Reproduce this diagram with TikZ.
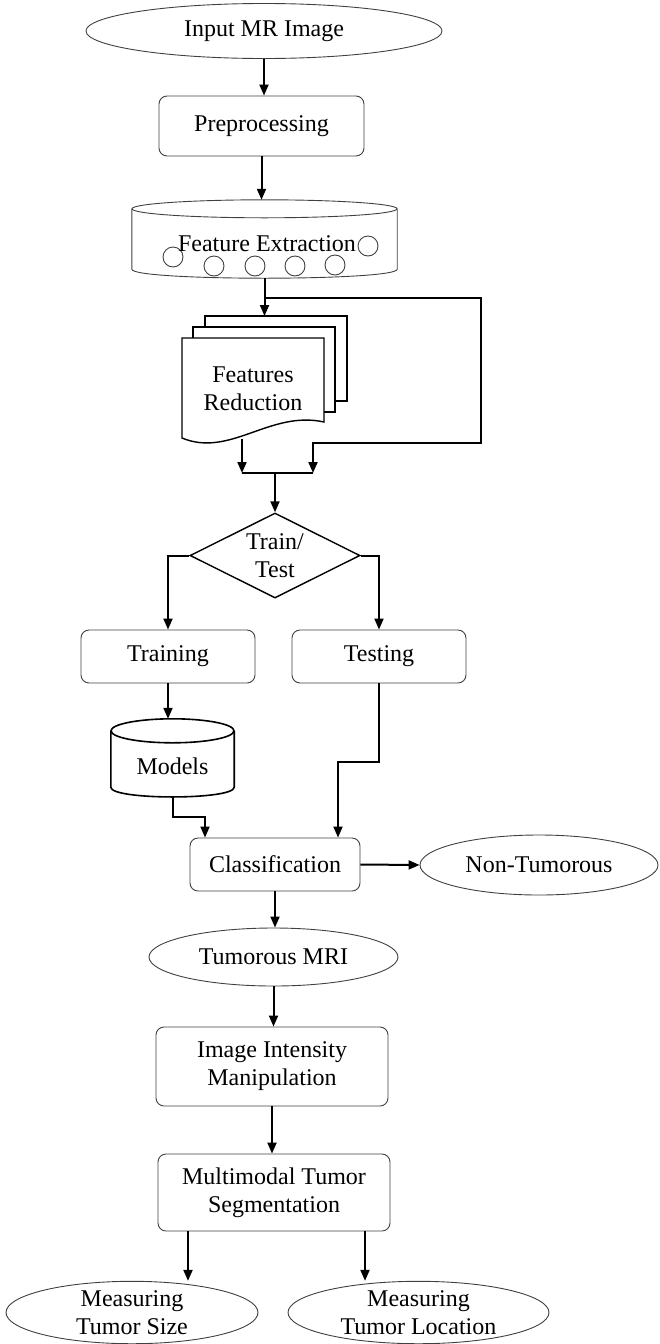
\documentclass[tikz,border=0pt]{standalone}
\usepackage{fontspec}
\setmainfont{Liberation Serif}
\usetikzlibrary{shapes.geometric, arrows.meta, positioning, calc}

\tikzset{
  every node/.style={font=\fontsize{24}{28}\selectfont, align=center, inner sep=0pt},
  procbox/.style={rectangle, rounded corners=8pt, draw=black!75, line width=0.9pt},
  termell/.style={ellipse, draw=black!75, line width=0.9pt},
  thinline/.style={draw=black!75, line width=0.9pt},
  thickline/.style={draw=black, line width=1.6pt},
  pagesheet/.style={draw=black, line width=1.4pt, fill=white},
  flowline/.style={draw=black, line width=2pt},
  flowarrow/.style={flowline, -{Triangle[length=11pt,width=9pt]}},
}

\begin{document}
\begin{tikzpicture}[x=1pt, y=-1pt]
  \useasboundingbox (0,0) rectangle (659,1344);

  % Top of the chain
  \node[termell, minimum width=356pt, minimum height=55pt] (input) at (264,31) {Input MR Image};
  \node[procbox, minimum width=205pt, minimum height=60pt] (pre) at (261.5,126) {Preprocessing};

  % Feature extraction drum with its little circles
  \node[minimum width=265pt, minimum height=78pt] (feat) at (264.5,239) {};
  \draw[thinline] ([yshift=-9pt]feat.north) ellipse [x radius=132.5pt, y radius=9pt];
  \draw[thinline] ([yshift=-9pt]feat.north west) -- ([yshift=9pt]feat.south west)
    .. controls ([yshift=-3pt]feat.south west) and ([yshift=-3pt]feat.south east) .. ([yshift=9pt]feat.south east)
    -- ([yshift=-9pt]feat.north east);
  \foreach \cx/\cy in {173/257, 214/266, 255/266, 295/266, 335/265, 368/246}
    \draw[thinline] (\cx,\cy) circle [radius=10];
  \node (featlbl) at (267,244) {Feature Extraction};

  % Stacked pages for features reduction
  \draw[pagesheet] (205,316) rectangle (347,401);
  \draw[pagesheet] (193,327) rectangle (335,412);
  \draw[pagesheet] (182,438) -- (182,338) -- (324,338) -- (324,422)
    .. controls (270,410) and (230,458) .. (182,438) -- cycle;
  \node[minimum width=142pt, minimum height=100pt] (red) at (253,389) {Features\\Reduction};

  \coordinate (fork) at (264.5,298);
  \coordinate (pagetop) at (264.5,316);
  \coordinate (loopne) at (481,298);
  \coordinate (loopse) at (481,443);
  \coordinate (joinL) at (242,473);
  \coordinate (joinR) at (313,473);

  % Decision and the two branches
  \node[diamond, aspect=2, draw=black, line width=1.4pt, minimum width=170pt, minimum height=85pt] (tt) at (275,555.5) {Train/\\Test};
  \node[procbox, minimum width=174pt, minimum height=53pt] (train) at (168,656.5) {Training};
  \node[procbox, minimum width=174pt, minimum height=53pt] (test) at (379,656.5) {Testing};

  % Models drum
  \node[minimum width=123pt, minimum height=78pt] (models) at (172.5,758) {};
  \draw[thickline] ([yshift=-12pt]models.north) ellipse [x radius=61.5pt, y radius=12pt];
  \draw[thickline] ([yshift=-12pt]models.north west) -- ([yshift=10pt]models.south west)
    .. controls ([yshift=-3pt]models.south west) and ([yshift=-3pt]models.south east) .. ([yshift=10pt]models.south east)
    -- ([yshift=-12pt]models.north east);
  \node (modelslbl) at (172.5,766) {Models};

  \node[procbox, minimum width=170pt, minimum height=53pt] (cls) at (275,864.5) {Classification};
  \node[termell, minimum width=238pt, minimum height=60pt] (nontum) at (539,865) {Non-Tumorous};
  \node[termell, minimum width=249pt, minimum height=58pt] (tumor) at (273.5,957) {Tumorous MRI};
  \node[procbox, minimum width=232pt, minimum height=79pt] (intens) at (272,1066.5) {Image Intensity\\Manipulation};
  \node[procbox, minimum width=232pt, minimum height=77pt] (seg) at (274,1192.5) {Multimodal Tumor\\Segmentation};
  \node[termell, minimum width=252pt, minimum height=59pt] (size) at (132,1312.5) {Measuring\\Tumor Size};
  \node[termell, minimum width=261pt, minimum height=59pt] (loc) at (418.5,1312.5) {Measuring\\Tumor Location};

  % Connectors
  \draw[flowarrow] (input.south) -- (input.south |- pre.north);
  \draw[flowarrow] (pre.south) -- (pre.south |- feat.north);
  \draw[flowarrow] (feat.south) -- (pagetop);
  \draw[flowarrow] (fork) -- (loopne) -- (loopse) -| (joinR);
  \draw[flowarrow] (joinL |- red.south) -- (joinL);
  \draw[flowline] (joinL) -- (joinR);
  \draw[flowarrow] (joinL -| tt.north) -- (tt.north);
  \draw[flowarrow] (tt.west) -| (train.north);
  \draw[flowarrow] (tt.east) -| (test.north);
  \draw[flowarrow] (train.south) -- (train.south |- models.north);
  \draw[flowarrow] (models.south) -- ++(0,20) -| ([xshift=-70pt]cls.north);
  \draw[flowarrow] (test.south) -- ++(0,79) -| ([xshift=63pt]cls.north);
  \draw[flowarrow] (cls.east) -- (nontum.west);
  \draw[flowarrow] (cls.south) -- (cls.south |- tumor.north);
  \draw[flowarrow] (tumor.south) -- (tumor.south |- intens.north);
  \draw[flowarrow] (intens.south) -- (intens.south |- seg.north);
  \draw[flowarrow] ([xshift=-86pt]seg.south) -- ([xshift=-86pt]seg.south |- size.north);
  \draw[flowarrow] ([xshift=91pt]seg.south) -- ([xshift=91pt]seg.south |- loc.north);
\end{tikzpicture}
\end{document}
